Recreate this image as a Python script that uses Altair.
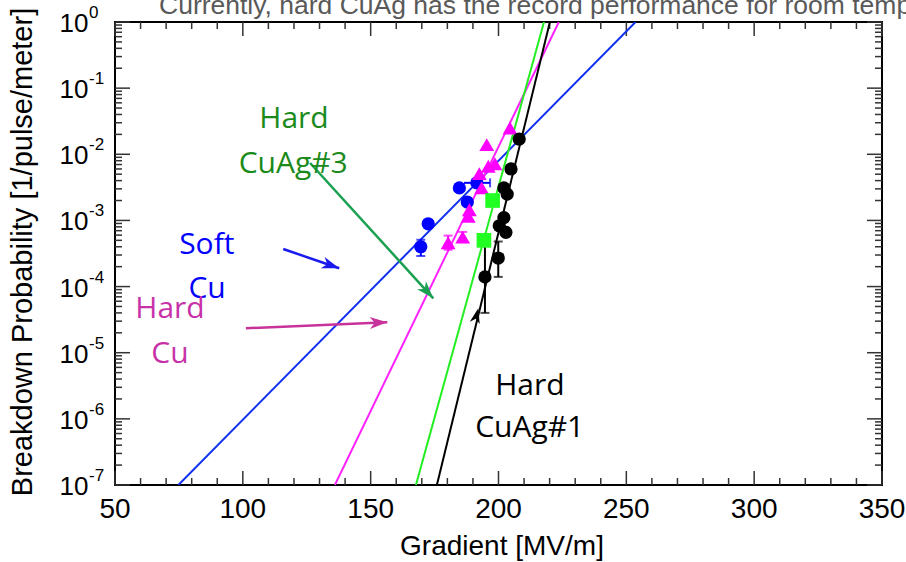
import math
import altair as alt
import pandas as pd

# ---------------- data ----------------
# Soft Cu (blue circles)
soft_cu_g = [169.6, 172.5, 184.7, 187.8, 191.5]
soft_cu_p = [4.0e-4, 8.9e-4, 3.1e-3, 1.9e-3, 3.7e-3]
# Hard Cu (magenta triangles)
hard_cu_g = [180.3, 186.0, 188.2, 188.6, 192.5, 193.4, 195.4, 196.0, 198.6, 204.5]
hard_cu_p = [4.6e-4, 5.6e-4, 1.15e-3, 1.45e-3, 5.1e-3, 3.1e-3, 1.4e-2, 6.6e-3, 7.2e-3, 2.5e-2]
# Hard CuAg#3 (green squares)
cuag3_g = [194.3, 197.7]
cuag3_p = [5.0e-4, 2.0e-3]
# Hard CuAg#1 (black circles)
cuag1_g = [194.7, 199.9, 200.3, 202.1, 202.9, 202.1, 203.4, 204.9, 208.1]
cuag1_p = [1.4e-4, 2.7e-4, 8.3e-4, 1.1e-3, 6.6e-4, 3.1e-3, 2.5e-3, 6.0e-3, 1.7e-2]

# vertical error bars
err_g = [169.6, 186.0, 180.3, 199.9, 194.7]
err_lo = [2.9e-4, 4.7e-4, 3.6e-4, 1.4e-4, 4.0e-5]
err_hi = [5.1e-4, 6.7e-4, 5.9e-4, 4.8e-4, 5.1e-4]
err_color = ["#0000ff", "#ff00ff", "#ff00ff", "#000000", "#000000"]
# horizontal error bar
herr_p = [3.7e-3]
herr_lo = [186.5]
herr_hi = [196.7]
herr_color = ["#0000ff"]

# fit lines: gradient at P = 1e-7 and at P = 1
fit_names = ["Soft Cu", "Hard Cu", "Hard CuAg#3", "Hard CuAg#1"]
fit_g_low = [74.8, 136.0, 167.7, 175.9]
fit_g_high = [253.6, 223.6, 217.8, 220.1]
fit_colors = ["#1030f0", "#ff22ff", "#22ee22", "#000000"]

# annotation labels
ann_text = ["Hard", "CuAg#3", "Soft", "Cu", "Hard", "Cu", "Hard", "CuAg#1"]
ann_g = [120.0, 119.7, 85.9, 86.0, 71.5, 71.5, 212.3, 212.2]
ann_p = [2.47e-2, 5.21e-3, 3.1e-4, 6.7e-5, 3.31e-5, 6.92e-6, 2.30e-6, 5.37e-7]
ann_color = ["#1a8a1a", "#1a8a1a", "#0000ff", "#0000ff", "#c832a8", "#c832a8", "#000000", "#000000"]

# annotation arrows
arr_g1 = [126.3, 115.8, 101.2]
arr_p1 = [7.38e-3, 3.70e-4, 2.34e-5]
arr_g2 = [174.5, 137.7, 156.5]
arr_p2 = [6.65e-5, 1.89e-4, 2.88e-5]
arr_color = ["#19a050", "#1a1aee", "#c8329b"]
# lone black arrow head on the CuAg#1 fit
blk_head_g = [192.1]
blk_head_p = [4.69e-5]

# axes
x_major = [50, 100, 150, 200, 250, 300, 350]
x_minor = [v for v in range(50, 351, 10) if v % 50]
y_exp = [0, -1, -2, -3, -4, -5, -6, -7]
y_major = [10.0 ** e for e in y_exp]
y_minor = [k * 10.0 ** e for e in range(-7, 0) for k in range(2, 10)]

title_text = "Currently, hard CuAg has the record performance for room temp"

# ---------------- layout ----------------
W, H = 767, 463
PAD = {"left": 115, "top": 22, "right": 24, "bottom": 77}

xs = alt.Scale(domain=[50, 350], nice=False, zero=False)
ys = alt.Scale(type="log", domain=[1e-7, 1], nice=False)


def X(f="g"):
    return alt.X(f"{f}:Q", scale=xs, axis=None)


def Y(f="p"):
    return alt.Y(f"{f}:Q", scale=ys, axis=None)


def to_px(g, p):
    return (g - 50) / 300 * W, -math.log10(p) / 7 * H


def angle(g1, p1, g2, p2):
    x1, y1 = to_px(g1, p1)
    x2, y2 = to_px(g2, p2)
    return math.degrees(math.atan2(x2 - x1, -(y2 - y1))) % 360


STEALTH = "M0,0L0.34,1L0,0.72L-0.34,1Z"
COL = alt.Color("c:N", scale=None)
layers = []

# ticks (inward, all four sides)
tick_col = "#333333"
xtM = pd.DataFrame({"g": x_major})
xtm = pd.DataFrame({"g": x_minor})
for d, L in ((xtM, 14), (xtm, 7)):
    layers.append(alt.Chart(d).mark_rule(color=tick_col, strokeWidth=1.5).encode(
        x=X(), y=alt.value(H), y2=alt.value(H - L)))
    layers.append(alt.Chart(d).mark_rule(color=tick_col, strokeWidth=1.5).encode(
        x=X(), y=alt.value(0), y2=alt.value(L)))
ytM = pd.DataFrame({"p": y_major})
ytm = pd.DataFrame({"p": y_minor})
for d, L in ((ytM, 15), (ytm, 7)):
    layers.append(alt.Chart(d).mark_rule(color=tick_col, strokeWidth=1.5).encode(
        y=Y(), x=alt.value(0), x2=alt.value(L)))
    layers.append(alt.Chart(d).mark_rule(color=tick_col, strokeWidth=1.5).encode(
        y=Y(), x=alt.value(W), x2=alt.value(W - L)))

# fit lines
fit_rows = []
for n, gl, gh, c in zip(fit_names, fit_g_low, fit_g_high, fit_colors):
    fit_rows.append({"s": n, "g": gl, "p": 1e-7, "c": c})
    fit_rows.append({"s": n, "g": gh, "p": 1.0, "c": c})
layers.append(alt.Chart(pd.DataFrame(fit_rows)).mark_line(strokeWidth=2, clip=True).encode(
    x=X(), y=Y(), color=COL, detail="s:N"))

# error bars
edf = pd.DataFrame({"g": err_g, "p": err_lo, "p2": err_hi, "c": err_color})
layers.append(alt.Chart(edf).mark_rule(strokeWidth=2).encode(
    x=X(), y=Y(), y2=alt.Y2("p2:Q"), color=COL))
for col in ("p", "p2"):
    layers.append(alt.Chart(edf).mark_point(shape="M-1,0L1,0", size=81, strokeWidth=2, filled=False).encode(
        x=X(), y=Y(col), color=COL))
hdf = pd.DataFrame({"g": herr_lo, "g2": herr_hi, "p": herr_p, "c": herr_color})
layers.append(alt.Chart(hdf).mark_rule(strokeWidth=2).encode(
    x=X(), x2=alt.X2("g2:Q"), y=Y(), color=COL))
layers.append(alt.Chart(hdf).mark_point(shape="M0,-1L0,1", size=81, strokeWidth=2, filled=False).encode(
    x=X("g2"), y=Y(), color=COL))

# markers
layers.append(alt.Chart(pd.DataFrame({"g": soft_cu_g, "p": soft_cu_p})).mark_point(
    shape="circle", filled=True, size=175, color="#0000ff", opacity=1).encode(x=X(), y=Y()))
layers.append(alt.Chart(pd.DataFrame({"g": hard_cu_g, "p": hard_cu_p})).mark_point(
    shape="triangle-up", filled=True, size=220, color="#ff00ff", opacity=1).encode(x=X(), y=Y()))
layers.append(alt.Chart(pd.DataFrame({"g": cuag3_g, "p": cuag3_p})).mark_point(
    shape="square", filled=True, size=215, color="#22ff22", opacity=1).encode(x=X(), y=Y()))
layers.append(alt.Chart(pd.DataFrame({"g": cuag1_g, "p": cuag1_p})).mark_point(
    shape="circle", filled=True, size=175, color="#000000", opacity=1).encode(x=X(), y=Y()))

# annotation arrows
adf = pd.DataFrame({"g": arr_g1, "p": arr_p1, "g2": arr_g2, "p2": arr_p2, "c": arr_color})
adf["a"] = [angle(a, b, c, d) for a, b, c, d in zip(arr_g1, arr_p1, arr_g2, arr_p2)]
layers.append(alt.Chart(adf).mark_rule(strokeWidth=2.5).encode(
    x=X(), y=Y(), x2=alt.X2("g2:Q"), y2=alt.Y2("p2:Q"), color=COL))
layers.append(alt.Chart(adf).mark_point(shape=STEALTH, filled=True, size=1225, opacity=1).encode(
    x=X("g2"), y=Y("p2"), color=COL, angle=alt.Angle("a:Q", scale=None)))
bdf = pd.DataFrame({"g": blk_head_g, "p": blk_head_p})
bdf["a"] = angle(fit_g_low[3], 1e-7, fit_g_high[3], 1.0)
layers.append(alt.Chart(bdf).mark_point(shape=STEALTH, filled=True, size=900, opacity=1, color="black").encode(
    x=X(), y=Y(), angle=alt.Angle("a:Q", scale=None)))

# annotation text
tdf = pd.DataFrame({"g": ann_g, "p": ann_p, "t": ann_text, "c": ann_color})
layers.append(alt.Chart(tdf).mark_text(font="Open Sans", fontSize=30, align="center", baseline="alphabetic").encode(
    x=X(), y=Y(), text="t:N", color=COL))

# tick labels
xl = pd.DataFrame({"g": x_major, "t": [str(v) for v in x_major]})
layers.append(alt.Chart(xl).mark_text(font="Liberation Sans", fontSize=28, align="center",
                                      baseline="alphabetic", color="black").encode(
    x=X(), y=alt.value(H + 33), text="t:N"))
yl = pd.DataFrame({"p": y_major, "b": ["10"] * len(y_major), "s": [str(e) for e in y_exp]})
layers.append(alt.Chart(yl).mark_text(font="Liberation Sans", fontSize=26, align="right",
                                      baseline="alphabetic", dy=10, color="black").encode(
    y=Y(), x=alt.value(-26.5), text="b:N"))
layers.append(alt.Chart(yl).mark_text(font="Liberation Sans", fontSize=17, align="left",
                                      baseline="alphabetic", dy=-4, color="black").encode(
    y=Y(), x=alt.value(-26), text="s:N"))

# axis titles and clipped headline
layers.append(alt.Chart(pd.DataFrame({"t": ["Gradient [MV/m]"]})).mark_text(
    font="Liberation Sans", fontSize=28, align="center", baseline="alphabetic", color="black").encode(
    x=alt.value(387), y=alt.value(533), text="t:N"))
layers.append(alt.Chart(pd.DataFrame({"t": ["Breakdown Probability [1/pulse/meter]"]})).mark_text(
    font="Liberation Sans", fontSize=29, align="center", baseline="alphabetic", angle=270, color="black").encode(
    x=alt.value(-83), y=alt.value(230), text="t:N"))
layers.append(alt.Chart(pd.DataFrame({"t": [title_text]})).mark_text(
    font="Liberation Sans", fontSize=26.5, align="left", baseline="alphabetic", color="#595959").encode(
    x=alt.value(44), y=alt.value(-8), text="t:N"))

chart = alt.layer(*layers).properties(
    width=W, height=H,
    autosize=alt.AutoSizeParams(type="none"),
    padding=PAD,
    background="white",
).configure_view(stroke="black", strokeWidth=2)

chart.save("out.html", embed_options={"renderer": "svg", "actions": False})
